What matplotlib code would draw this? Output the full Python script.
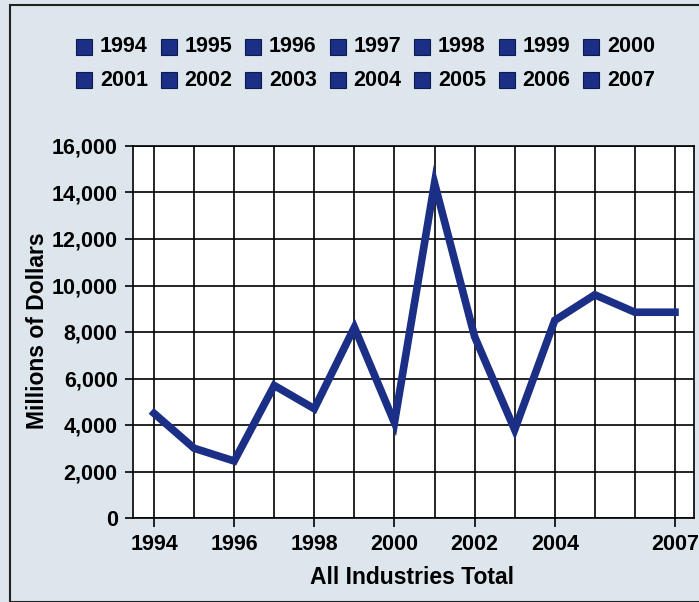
import matplotlib
matplotlib.use("Agg")
import matplotlib.pyplot as plt
from matplotlib.patches import Rectangle
import numpy as np

# data
years = [1994, 1995, 1996, 1997, 1998, 1999, 2000,
         2001, 2002, 2003, 2004, 2005, 2006, 2007]
values = [4500, 3000, 2450, 5700, 4700, 8200, 4100,
          14400, 7800, 3800, 8500, 9600, 8850, 8850]
x_ticks = [1994, 1996, 1998, 2000, 2002, 2004, 2007]
y_ticks = [0, 2000, 4000, 6000, 8000, 10000, 12000, 14000, 16000]

bg = '#dde6ec'
navy = '#1a2f85'
plt.rcParams['font.family'] = ['Liberation Sans', 'DejaVu Sans']
plt.rcParams['font.weight'] = 'bold'

fig = plt.figure(figsize=(6.99, 6.02), dpi=100)
fig.patch.set_facecolor(bg)

# outer frame
fig.patches.append(Rectangle((10 / 699, 0), 1, 1 - 5 / 602, transform=fig.transFigure,
                             fill=False, edgecolor='#222222', lw=1.5))

ax = fig.add_axes([133 / 699, 1 - 518 / 602, (694 - 133) / 699, (518 - 146) / 602])
ax.set_facecolor('white')
ax.plot(years, values, color=navy, lw=5.5, solid_joinstyle='miter', zorder=3)

ax.set_xlim(1993.475, 2007.475)
ax.set_ylim(0, 16000)

# grid: a line for every year and every 2,000
for yr in years:
    ax.axvline(yr, color='black', lw=1.2, zorder=1)
for v in y_ticks:
    ax.axhline(v, color='black', lw=1.2, zorder=1)

ax.set_xticks(x_ticks)
ax.set_xticklabels([str(t) for t in x_ticks])
ax.set_yticks(y_ticks)
ax.set_yticklabels(['{:,}'.format(t) for t in y_ticks])
ax.tick_params(axis='both', labelsize=15.5, width=1.2, color='black')
ax.tick_params(axis='x', length=6.5, pad=5)
ax.tick_params(axis='y', length=6, pad=5)
for lab in ax.get_xticklabels() + ax.get_yticklabels():
    lab.set_fontweight('bold')

for s in ax.spines.values():
    s.set_color('black')
    s.set_linewidth(1.2)

fig.text(412 / 699, 1 - 578 / 602, 'All Industries Total', ha='center', va='center',
         fontsize=16.5, fontweight='bold')
fig.text(38 / 699, 1 - 331 / 602, 'Millions of Dollars', ha='center', va='center',
         rotation=90, fontsize=16.5, fontweight='bold')

# legend: two rows of seven
for i, yr in enumerate(years):
    row, col = divmod(i, 7)
    x0 = 76 + col * 84.5
    yc = 47 + row * 33
    fig.patches.append(Rectangle((x0 / 699, 1 - (yc + 8) / 602), 16 / 699, 16 / 602,
                                 transform=fig.transFigure, facecolor=navy,
                                 edgecolor='#0d1a4d', lw=0.8))
    fig.text((x0 + 24) / 699, 1 - yc / 602, str(yr), ha='left', va='center',
             fontsize=15.5, fontweight='bold')

fig.savefig('out.png', dpi=100, facecolor=bg)
